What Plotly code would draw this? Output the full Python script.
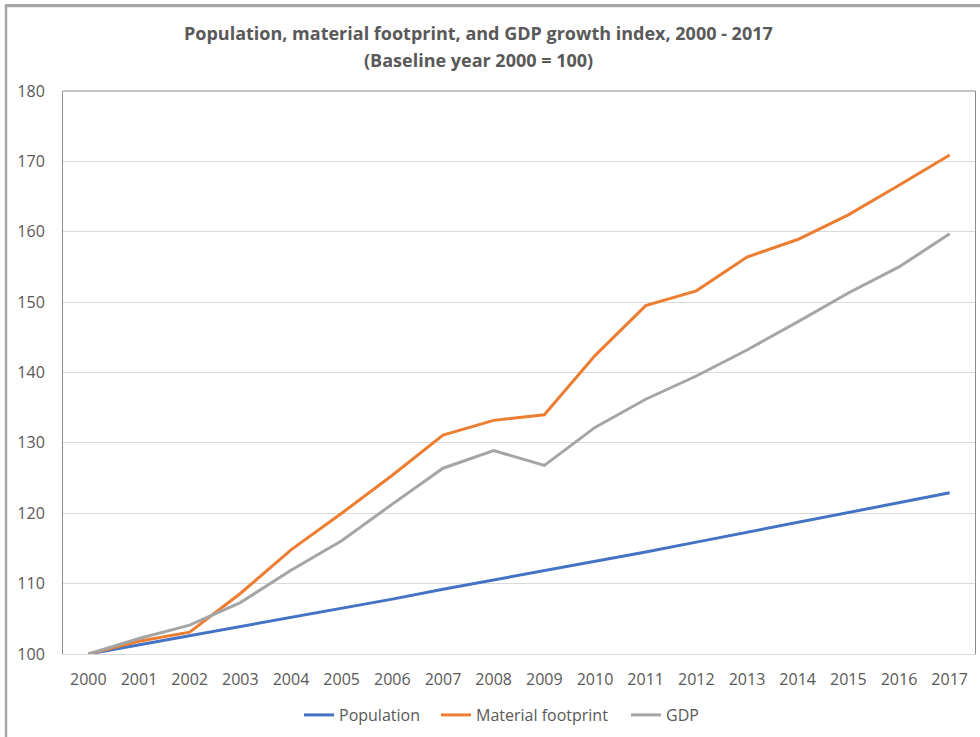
import plotly.graph_objects as go

years = [str(y) for y in range(2000, 2018)]
population = [100, 101.3, 102.5, 103.9, 105.2, 106.4, 107.8, 109.2, 110.5, 111.8,
              113.1, 114.5, 115.9, 117.3, 118.7, 120.1, 121.5, 122.9]
material_footprint = [100, 101.8, 103.1, 108.6, 114.8, 120.0, 125.4, 131.1, 133.2, 134.0,
                      142.4, 149.5, 151.6, 156.4, 158.9, 162.4, 166.6, 170.9]
gdp = [100, 102.2, 104.1, 107.3, 111.9, 116.1, 121.3, 126.4, 128.9, 126.8,
       132.2, 136.2, 139.5, 143.2, 147.2, 151.3, 155.0, 159.7]

title_lines = ["Population, material footprint, and GDP growth index, 2000 - 2017",
               "(Baseline year 2000 = 100)"]

series = [
    ("Population", population, "#4472c4", "legend", 305),
    ("Material footprint", material_footprint, "#ed7d31", "legend2", 442),
    ("GDP", gdp, "#a5a5a5", "legend3", 632),
]

W, H = 980, 737
L, R, T, B = 63, 5, 91, 83
pw, ph = W - L - R, H - T - B

def px_x(px):
    return (px - L) / pw

def px_y(py):
    return (H - B - py) / ph

fig = go.Figure()
for name, vals, color, lg, _ in series:
    fig.add_trace(go.Scatter(x=years, y=vals, name=name, mode="lines",
                             line=dict(color=color, width=3), legend=lg))

legend_common = dict(orientation="h", yanchor="middle", xanchor="left",
                     font=dict(size=16, color="#595959"), bgcolor="rgba(0,0,0,0)",
                     itemwidth=30)
layout_legends = {}
for name, vals, color, lg, lx in series:
    layout_legends[lg] = dict(legend_common, x=px_x(lx - 6), y=px_y(715))

fig.update_layout(
    width=W, height=H,
    margin=dict(l=L, r=R, t=T, b=B),
    paper_bgcolor="white", plot_bgcolor="white",
    font=dict(family="Open Sans", size=16, color="#595959"),
    xaxis=dict(type="category", range=[-0.5, 17.5], showgrid=False,
               showline=True, linecolor="#d9d9d9", linewidth=1,
               ticks="", ticklabelstandoff=11, tickfont=dict(size=16, color="#595959")),
    yaxis=dict(range=[100, 180], dtick=10, showgrid=True, gridcolor="#d9d9d9",
               gridwidth=1, showline=True, mirror=True, linecolor="#8c8c8c",
               linewidth=1, zeroline=False, ticks="", ticklabelstandoff=14,
               tickfont=dict(size=16, color="#595959")),
    showlegend=True,
    **layout_legends,
)

for i, (line, ypx) in enumerate(zip(title_lines, [33, 60])):
    fig.add_annotation(text="<b>" + line + "</b>", xref="paper", yref="paper",
                       x=px_x(478), y=px_y(ypx), xanchor="center", yanchor="middle",
                       showarrow=False,
                       font=dict(family="Open Sans", size=18, color="#595959"))

# outer chart border top edge (thin filled band)
fig.add_annotation(text=" ", xref="paper", yref="paper",
                   x=px_x(5), y=px_y(4), xanchor="left", yanchor="top",
                   width=990, height=1, borderpad=0, borderwidth=0,
                   bgcolor="#a6a6a6", showarrow=False, font=dict(size=1))

shapes = [
    # plot area top border
    dict(type="line", xref="paper", yref="paper", x0=0, x1=1, y0=1, y1=1,
         line=dict(color="#8c8c8c", width=1)),
    # outer chart border
    dict(type="rect", xref="paper", yref="paper", layer="above",
         x0=px_x(6), x1=px_x(990), y0=px_y(750), y1=px_y(6),
         line=dict(color="#a6a6a6", width=2.5)),
]
fig.update_layout(shapes=shapes)

fig.write_html("out.html")
